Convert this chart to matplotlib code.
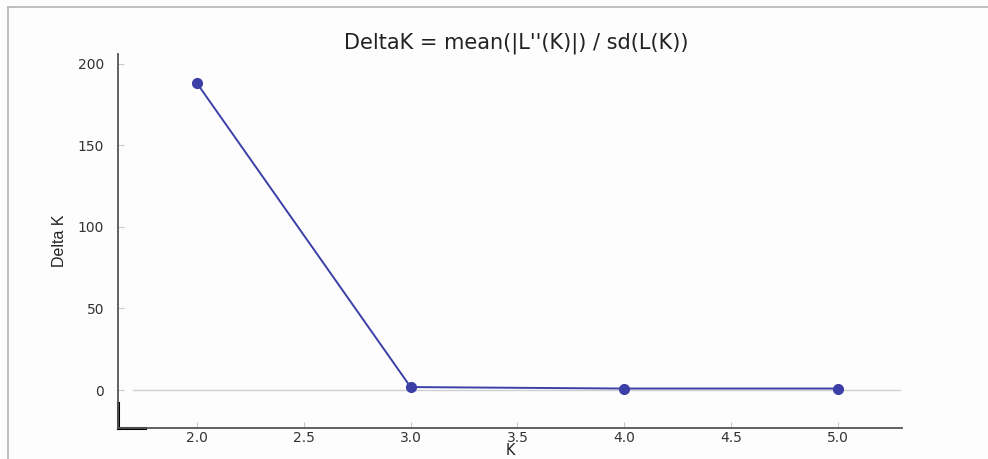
import matplotlib
matplotlib.use("Agg")
import matplotlib.pyplot as plt
from matplotlib.lines import Line2D

# data
k_values = [2.0, 3.0, 4.0, 5.0]
delta_k = [188.0, 1.8, 0.9, 0.9]
y_ticks = [0, 50, 100, 150, 200]
x_ticks = [2.0, 2.5, 3.0, 3.5, 4.0, 4.5, 5.0]

line_color = "#3b3fa6"

fig = plt.figure(figsize=(9.88, 4.59), dpi=100)
fig.patch.set_facecolor("#fdfdfd")
ax = fig.add_axes([0.1194, 0.0675, 0.7935, 0.815])
ax.set_facecolor("#fdfdfd")

# outer frame of the screenshot
fig.add_artist(Line2D([0.0081, 1.0], [0.9847, 0.9847], color="#b4b4b4", lw=1.2))
fig.add_artist(Line2D([0.0081, 0.0081], [0.0, 0.9847], color="#b4b4b4", lw=1.2))

ax.axhline(0, xmin=0.019, xmax=0.997, color="#cfcfcf", lw=1.0, zorder=1)
ax.plot(k_values, delta_k, color=line_color, lw=1.4, marker="o",
        markersize=7, markerfacecolor=line_color, markeredgecolor=line_color, zorder=3)

ax.set_xlim(1.63, 5.30)
ax.set_ylim(-23.3, 206)
ax.set_xticks(x_ticks)
ax.set_yticks(y_ticks)
ax.set_xticklabels([f"{v:.1f}" for v in x_ticks])
ax.set_yticklabels([str(v) for v in y_ticks])

for side in ["top", "right"]:
    ax.spines[side].set_visible(False)
for side in ["left", "bottom"]:
    ax.spines[side].set_color("#555555")
    ax.spines[side].set_linewidth(1.3)

# black corner bits at the axes origin
ax.add_line(Line2D([0, 0], [0, 0.068], transform=ax.transAxes, color="black",
                   lw=2.2, clip_on=False))
ax.add_line(Line2D([0, 0.034], [0, 0], transform=ax.transAxes, color="black",
                   lw=2.2, clip_on=False))

ax.tick_params(axis="both", direction="in", length=4, color="#c8c8c8",
               labelsize=10, labelcolor="#333333")
ax.tick_params(axis="y", pad=10)
ax.tick_params(axis="x", pad=2)

ax.set_title("DeltaK = mean(|L''(K)|) / sd(L(K))", fontsize=15,
             color="#222222", pad=3, x=0.508)
ax.set_xlabel("K", fontsize=10.5, color="#222222", labelpad=-1)
ax.set_ylabel("Delta K", fontsize=11.5, color="#222222", labelpad=8,
              family=["Liberation Sans Narrow", "Liberation Sans"])

fig.savefig("out.png", dpi=100, facecolor=fig.get_facecolor())
